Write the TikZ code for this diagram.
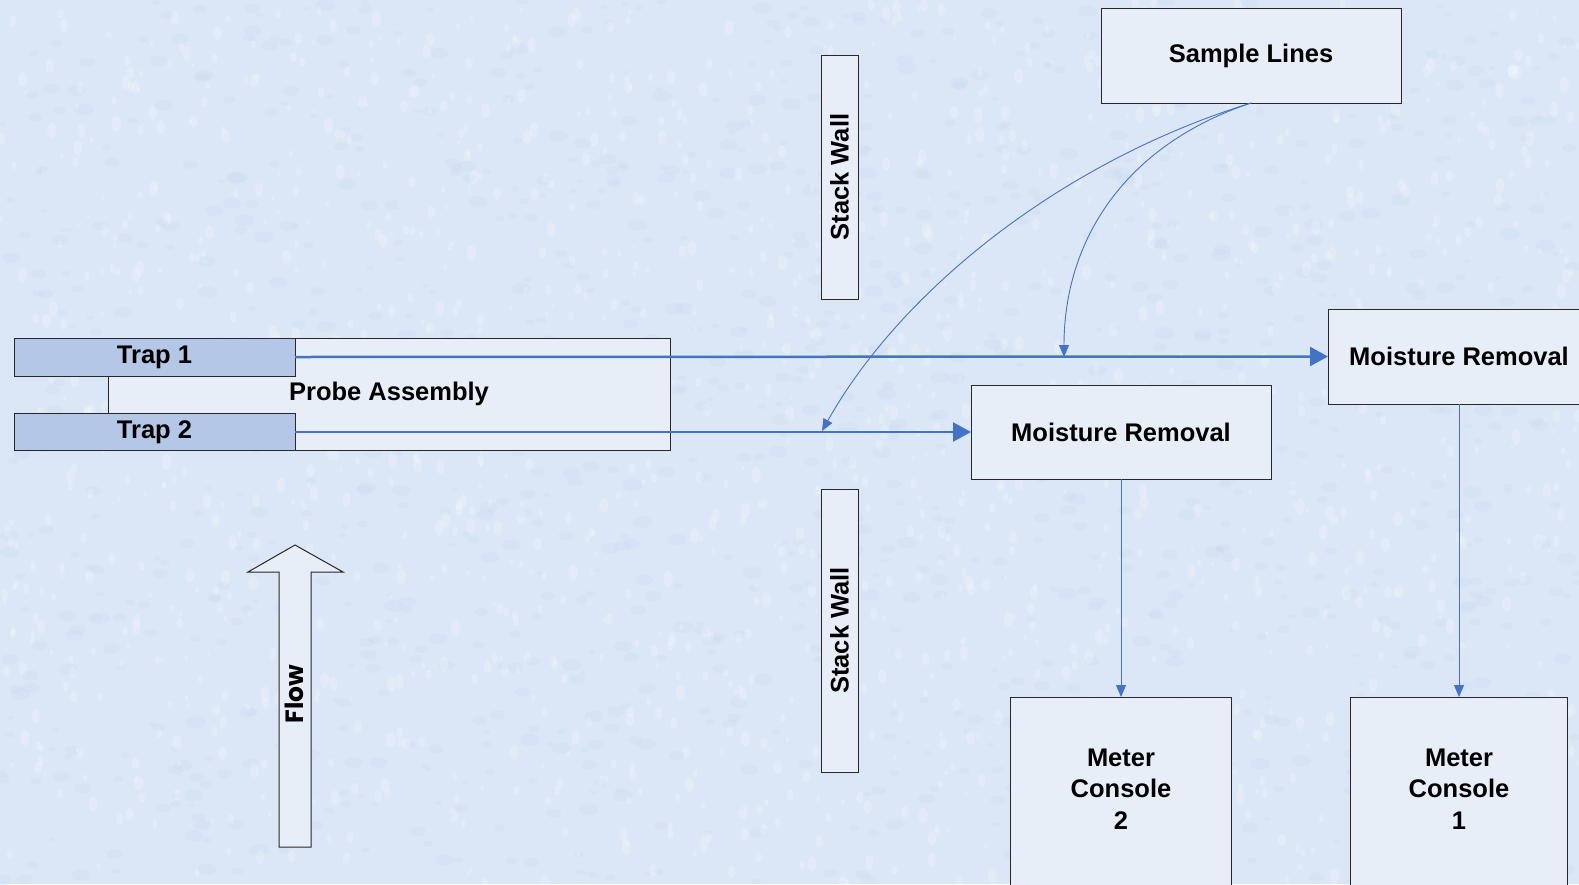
\documentclass[tikz,border=0pt]{standalone}
\usepackage{fontspec}
\setmainfont{Liberation Sans}
\newfontfamily\flowfont{Poppins}
\usetikzlibrary{arrows.meta}
\definecolor{bgc}{RGB}{219,231,246}
\definecolor{bgdark}{RGB}{196,214,238}
\definecolor{boxfill}{RGB}{232,238,248}
\definecolor{trapfill}{RGB}{181,199,230}
\definecolor{linec}{RGB}{68,114,196}
\definecolor{edgec}{RGB}{40,40,40}
\begin{document}
\begin{tikzpicture}[x=1pt,y=-1pt,
  box/.style={draw=edgec, line width=1pt, fill=boxfill, inner sep=0pt, outer sep=0pt,
    font=\fontsize{25.5}{31.5}\selectfont\bfseries, align=center},
  trapbox/.style={box, fill=trapfill},
  boxtext/.style={inner sep=0pt, font=\fontsize{25.5}{31.5}\selectfont\bfseries, align=center},
  thickarrow/.style={draw=linec, line width=2.5pt, -{Triangle[length=18pt,width=19pt]}},
  thinarrow/.style={draw=linec, line width=0.9pt, -{Triangle[length=12pt,width=10pt]}}
]
\useasboundingbox (0,0) rectangle (1579,884);
\clip (0,0) rectangle (1579,884);
\fill[bgc] (0,0) rectangle (1579,884);
% mottled background texture
\pgfmathsetseed{11}
\foreach \i in {1,...,1200}{
  \pgfmathsetmacro\xx{rnd*1579}
  \pgfmathsetmacro\yy{rnd*884}
  \pgfmathsetmacro\rr{3+rnd*7}
  \fill[bgdark,opacity=0.22] (\xx,\yy) ellipse ({\rr} and {0.6*\rr});
}
\foreach \i in {1,...,1500}{
  \pgfmathsetmacro\xx{rnd*1579}
  \pgfmathsetmacro\yy{rnd*884}
  \pgfmathsetmacro\rr{2+rnd*6}
  \fill[white,opacity=0.2] (\xx,\yy) ellipse ({0.6*\rr} and {\rr});
}

% probe assembly and traps
\node[box, minimum width=562pt, minimum height=112pt] (probe) at (389,394) {Probe Assembly};
\node[trapbox, minimum width=281pt, minimum height=38pt] (trap1) at (154.5,357) {Trap 1};
\node[trapbox, minimum width=281pt, minimum height=37pt] (trap2) at (154.5,432) {Trap 2};

% stack walls
\node[box, rotate=90, minimum width=244pt, minimum height=37pt] (sw1) at (839.5,177) {Stack Wall};
\node[box, rotate=90, minimum width=283pt, minimum height=37pt] (sw2) at (839.5,630.5) {Stack Wall};

% right side boxes
\node[box, minimum width=300pt, minimum height=95pt] (sl) at (1251,55.5) {Sample Lines};
\node[box, minimum width=262pt, minimum height=95pt] (mr1) at (1459,356.5) {Moisture Removal};
\node[box, minimum width=300pt, minimum height=94pt] (mr2) at (1121,432) {Moisture Removal};

\node[box, anchor=north, minimum width=221pt, minimum height=220pt] (mc2) at (1121,697) {};
\node[boxtext] (mc2t) at (1121,789) {Meter\\Console\\2};
\node[box, anchor=north, minimum width=217pt, minimum height=220pt] (mc1) at (1459,697) {};
\node[boxtext] (mc1t) at (1459,789) {Meter\\Console\\1};

% flow arrow
\draw[draw=edgec, line width=1pt, fill=boxfill]
  (279,847) -- (279,572) -- (248,572) -- (295,545) -- (343,572) -- (311,572) -- (311,847) -- cycle;
\node[rotate=90, inner sep=0pt, font=\flowfont\bfseries\fontsize{25}{30}\selectfont] (flow) at (294,694) {Flow};

% connectors
\draw[thickarrow] (trap1.east) -- (mr1.west);
\draw[thickarrow] (trap2.east) -- (mr2.west);
\coordinate (c1) at (822,431);
\coordinate (c2) at (1064,357);
\draw[thinarrow] (sl.south) .. controls (1060,162) and (900,292) .. (c1);
\draw[thinarrow] (sl.south) .. controls (1125,145) and (1064,240) .. (c2);
\draw[thinarrow] (mr2.south) -- (mc2.north);
\draw[thinarrow] (mr1.south) -- (mc1.north);
\end{tikzpicture}
\end{document}
